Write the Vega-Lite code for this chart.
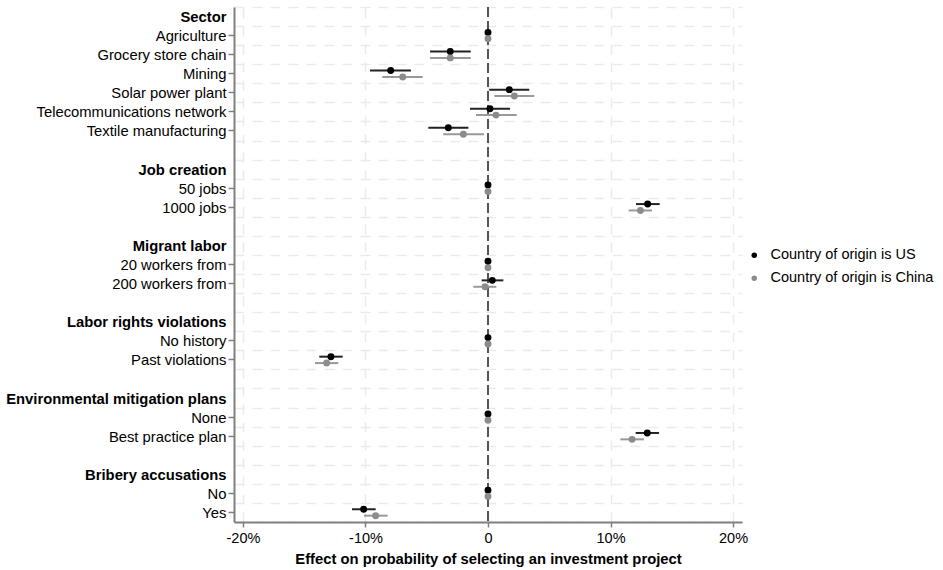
{
  "$schema": "https://vega.github.io/schema/vega-lite/v6.json",
  "width": 508,
  "height": 515,
  "autosize": {"type": "none"},
  "padding": {"left": 234, "top": 7, "right": 201, "bottom": 48},
  "background": "white",
  "config": {
    "font": "Liberation Sans",
    "view": {"stroke": null},
    "axis": {"labelFont": "Liberation Sans", "titleFont": "Liberation Sans", "labelColor": "#000000", "titleColor": "#000000"},
    "legend": {"labelFont": "Liberation Sans"}
  },
  "data": {
    "values": [
      {"row": "Agriculture", "series": "Country of origin is US", "est": 0, "lo": 0, "hi": 0},
      {"row": "Agriculture", "series": "Country of origin is China", "est": 0, "lo": 0, "hi": 0},
      {"row": "Grocery store chain", "series": "Country of origin is US", "est": -0.0308, "lo": -0.0473, "hi": -0.0141},
      {"row": "Grocery store chain", "series": "Country of origin is China", "est": -0.0308, "lo": -0.0473, "hi": -0.0141},
      {"row": "Mining", "series": "Country of origin is US", "est": -0.0794, "lo": -0.0963, "hi": -0.0629},
      {"row": "Mining", "series": "Country of origin is China", "est": -0.0696, "lo": -0.0863, "hi": -0.0533},
      {"row": "Solar power plant", "series": "Country of origin is US", "est": 0.0174, "lo": 0.0010, "hi": 0.0337},
      {"row": "Solar power plant", "series": "Country of origin is China", "est": 0.0215, "lo": 0.0052, "hi": 0.0378},
      {"row": "Telecommunications network", "series": "Country of origin is US", "est": 0.0016, "lo": -0.0147, "hi": 0.0180},
      {"row": "Telecommunications network", "series": "Country of origin is China", "est": 0.0065, "lo": -0.0098, "hi": 0.0234},
      {"row": "Textile manufacturing", "series": "Country of origin is US", "est": -0.0324, "lo": -0.0487, "hi": -0.0160},
      {"row": "Textile manufacturing", "series": "Country of origin is China", "est": -0.0201, "lo": -0.0365, "hi": -0.0033},
      {"row": "50 jobs", "series": "Country of origin is US", "est": 0, "lo": 0, "hi": 0},
      {"row": "50 jobs", "series": "Country of origin is China", "est": 0, "lo": 0, "hi": 0},
      {"row": "1000 jobs", "series": "Country of origin is US", "est": 0.1303, "lo": 0.1208, "hi": 0.1401},
      {"row": "1000 jobs", "series": "Country of origin is China", "est": 0.1244, "lo": 0.1148, "hi": 0.1339},
      {"row": "20 workers from", "series": "Country of origin is US", "est": 0, "lo": 0, "hi": 0},
      {"row": "20 workers from", "series": "Country of origin is China", "est": 0, "lo": 0, "hi": 0},
      {"row": "200 workers from", "series": "Country of origin is US", "est": 0.0035, "lo": -0.0052, "hi": 0.0125},
      {"row": "200 workers from", "series": "Country of origin is China", "est": -0.0024, "lo": -0.0120, "hi": 0.0068},
      {"row": "No history", "series": "Country of origin is US", "est": 0, "lo": 0, "hi": 0},
      {"row": "No history", "series": "Country of origin is China", "est": 0, "lo": 0, "hi": 0},
      {"row": "Past violations", "series": "Country of origin is US", "est": -0.1282, "lo": -0.1377, "hi": -0.1186},
      {"row": "Past violations", "series": "Country of origin is China", "est": -0.1317, "lo": -0.1412, "hi": -0.1222},
      {"row": "None", "series": "Country of origin is US", "est": 0, "lo": 0, "hi": 0},
      {"row": "None", "series": "Country of origin is China", "est": 0, "lo": 0, "hi": 0},
      {"row": "Best practice plan", "series": "Country of origin is US", "est": 0.1300, "lo": 0.1205, "hi": 0.1396},
      {"row": "Best practice plan", "series": "Country of origin is China", "est": 0.1176, "lo": 0.1080, "hi": 0.1273},
      {"row": "No", "series": "Country of origin is US", "est": 0, "lo": 0, "hi": 0},
      {"row": "No", "series": "Country of origin is China", "est": 0, "lo": 0, "hi": 0},
      {"row": "Yes", "series": "Country of origin is US", "est": -0.1015, "lo": -0.1110, "hi": -0.0917},
      {"row": "Yes", "series": "Country of origin is China", "est": -0.0917, "lo": -0.1012, "hi": -0.0819}
    ]
  },
  "resolve": {"axis": {"y": "independent"}, "scale": {"color": "independent"}},
  "layer": [
    {
      "mark": {"type": "rule", "color": "#555555", "strokeWidth": 2, "strokeDash": [10, 4]},
      "encoding": {
        "x": {"datum": 0, "type": "quantitative"}
      }
    },
    {
      "mark": {"type": "rule", "strokeWidth": 2},
      "encoding": {
        "y": {
          "field": "row", "type": "nominal",
          "scale": {"domain": ["Sector", "Agriculture", "Grocery store chain", "Mining", "Solar power plant", "Telecommunications network", "Textile manufacturing", " ", "Job creation", "50 jobs", "1000 jobs", "  ", "Migrant labor", "20 workers from", "200 workers from", "   ", "Labor rights violations", "No history", "Past violations", "    ", "Environmental mitigation plans", "None", "Best practice plan", "     ", "Bribery accusations", "No", "Yes"], "paddingInner": 0, "paddingOuter": 0},
          "axis": {"orient": "left", "grid": true, "tickBand": "extent", "labels": false, "ticks": false, "domain": false, "title": null, "gridColor": "#ebebeb", "gridDash": [10, 8], "gridWidth": 1.5}
        },
        "yOffset": {"field": "series", "type": "nominal", "scale": {"domain": ["Country of origin is US", "Country of origin is China"], "paddingOuter": 0.49, "paddingInner": 0}},
        "x": {
          "field": "lo", "type": "quantitative",
          "scale": {"domain": [-0.2073, 0.2073], "nice": false, "zero": false},
          "axis": {"values": [-0.2, -0.1, 0, 0.1, 0.2], "labelExpr": "datum.value == 0 ? '0' : replace(format(datum.value, '.0%'), '\u2212', '-')", "title": "Effect on probability of selecting an investment project", "titleFontSize": 14.8, "titleFontWeight": "bold", "titlePadding": 7, "labelFontSize": 14.5, "labelPadding": 4, "tickSize": 5, "tickColor": "#808080", "tickWidth": 1.5, "domainColor": "#808080", "domainWidth": 2, "grid": true, "gridColor": "#ebebeb", "gridDash": [10, 8], "gridWidth": 1.5}
        },
        "x2": {"field": "hi"},
        "color": {"field": "series", "type": "nominal", "scale": {"domain": ["Country of origin is US", "Country of origin is China"], "range": ["#222222", "#999999"]}, "legend": null}
      }
    },
    {
      "mark": {"type": "point", "filled": true, "size": 48, "opacity": 1, "shape": "circle"},
      "encoding": {
        "y": {
          "field": "row", "type": "nominal",
          "axis": {"orient": "left", "grid": false, "title": null, "labelFontSize": 14.8, "labelLimit": 0, "labelPadding": 2, "labelOffset": 1.5, "tickSize": 6, "tickColor": "#808080", "tickWidth": 1.5, "domainColor": "#808080", "domainWidth": 2, "labelFontWeight": {"condition": {"test": "indexof(['Sector','Job creation','Migrant labor','Labor rights violations','Environmental mitigation plans','Bribery accusations'], datum.value) >= 0", "value": "bold"}, "value": "normal"}, "tickOpacity": {"condition": {"test": "indexof(['Sector','Job creation','Migrant labor','Labor rights violations','Environmental mitigation plans','Bribery accusations'], datum.value) >= 0 || trim(datum.value) == ''", "value": 0}, "value": 1}}
        },
        "yOffset": {"field": "series", "type": "nominal"},
        "x": {"field": "est", "type": "quantitative"},
        "color": {"field": "series", "type": "nominal", "scale": {"domain": ["Country of origin is US", "Country of origin is China"], "range": ["#000000", "#8c8c8c"]}, "legend": {"title": null, "orient": "none", "legendX": 513, "legendY": 241, "labelFontSize": 14.5, "labelLimit": 0, "symbolSize": 30, "symbolType": "circle", "rowPadding": 8, "labelOffset": 9}}
      }
    }
  ]
}
